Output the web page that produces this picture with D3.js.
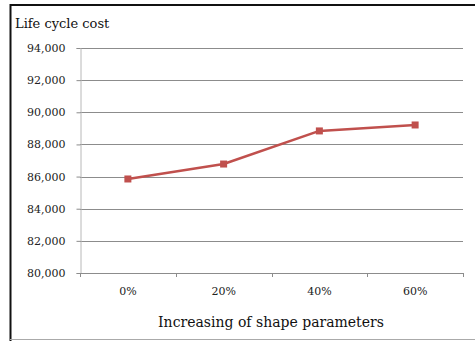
<!DOCTYPE html>
<html>
<head>
<meta charset="utf-8">
<script src="https://cdn.jsdelivr.net/npm/d3@7"></script>
<style>
  html, body { margin: 0; padding: 0; background: #fff; }
  svg { display: block; }
</style>
</head>
<body>
<svg id="chart" width="475" height="341"></svg>
<script>
// Life cycle cost against increase of the shape parameters
const categories = ["0%", "20%", "40%", "60%"];
const costValues = [85850, 86780, 88840, 89210];
const yTicks = [80000, 82000, 84000, 86000, 88000, 90000, 92000, 94000];

const svg = d3.select("#chart");
const serif = "'DejaVu Serif', 'Liberation Serif', serif";

// outer frame: dark left and top edges, light bottom edge
svg.append("line").attr("x1", 10.5).attr("x2", 10.5).attr("y1", 4).attr("y2", 341)
  .attr("stroke", "#111").attr("stroke-width", 2);
svg.append("line").attr("x1", 10).attr("x2", 475).attr("y1", 5).attr("y2", 5)
  .attr("stroke", "#111").attr("stroke-width", 2);
svg.append("line").attr("x1", 10).attr("x2", 475).attr("y1", 339.5).attr("y2", 339.5)
  .attr("stroke", "#aaa").attr("stroke-width", 1);

const plot = { left: 80, right: 463, top: 48, bottom: 273 };

const x = d3.scaleBand().domain(categories).range([plot.left, plot.right]);
const y = d3.scaleLinear().domain([80000, 94000]).range([plot.bottom, plot.top]);

// horizontal gridlines
svg.append("g").selectAll("line").data(yTicks.filter(d => d > 80000)).join("line")
  .attr("x1", plot.left).attr("x2", plot.right)
  .attr("y1", d => Math.round(y(d)) + 0.5).attr("y2", d => Math.round(y(d)) + 0.5)
  .attr("stroke", "#8c8c8c").attr("stroke-width", 1);

// y axis
const yAxis = svg.append("g").attr("transform", `translate(${plot.left + 0.5},0)`)
  .call(d3.axisLeft(y).tickValues(yTicks).tickSize(4).tickPadding(11)
    .tickFormat(d3.format(",")));
yAxis.select(".domain").attr("stroke", "#b8b8b8");
yAxis.selectAll(".tick line").attr("stroke", "#8c8c8c");
yAxis.selectAll(".tick text").attr("font-family", serif).attr("font-size", 11).attr("fill", "#222");

// x axis with ticks on the category boundaries
const xAxis = svg.append("g").attr("transform", `translate(0,${plot.bottom + 0.5})`)
  .call(d3.axisBottom(x).tickSize(0).tickPadding(14));
xAxis.select(".domain").attr("stroke", "#8c8c8c").attr("d", `M${plot.left},0H${plot.right}`);
xAxis.selectAll(".tick text").attr("font-family", serif).attr("font-size", 11).attr("fill", "#222");
svg.append("g").selectAll("line")
  .data(categories.map(c => x(c)).concat([x(categories[categories.length - 1]) + x.bandwidth()]))
  .join("line")
  .attr("x1", d => Math.round(d) + 0.5).attr("x2", d => Math.round(d) + 0.5)
  .attr("y1", plot.bottom).attr("y2", plot.bottom + 4)
  .attr("stroke", "#8c8c8c");

// series line and square markers
const cx = c => x(c) + x.bandwidth() / 2;
const points = categories.map((c, i) => [cx(c), y(costValues[i])]);
svg.append("path").attr("d", d3.line()(points))
  .attr("fill", "none").attr("stroke", "#c0504d").attr("stroke-width", 2.5)
  .attr("stroke-linejoin", "round");
svg.append("g").selectAll("rect").data(points).join("rect")
  .attr("x", d => d[0] - 3.5).attr("y", d => d[1] - 3.5)
  .attr("width", 7).attr("height", 7).attr("fill", "#c0504d");

// titles
svg.append("text").attr("x", 15).attr("y", 28).text("Life cycle cost")
  .attr("font-family", serif).attr("font-size", 13).attr("fill", "#111");
svg.append("text").attr("x", (plot.left + plot.right) / 2 - 0.5).attr("y", 327)
  .attr("text-anchor", "middle").text("Increasing of shape parameters")
  .attr("font-family", serif).attr("font-size", 14).attr("fill", "#111");
</script>
</body>
</html>
